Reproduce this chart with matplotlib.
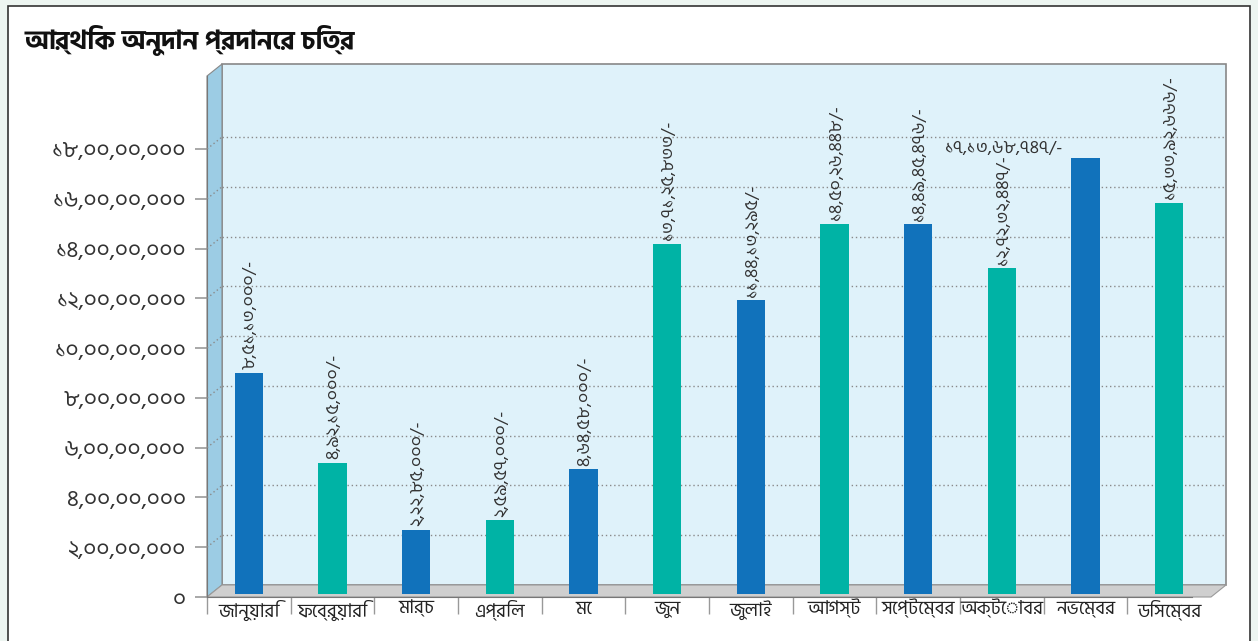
import matplotlib
matplotlib.use("Agg")
import matplotlib.pyplot as plt
from matplotlib.patches import Polygon
from matplotlib.lines import Line2D

# data
months = ['জানুয়ারি', 'ফেব্রুয়ারি', 'মার্চ', 'এপ্রিল', 'মে', 'জুন',
          'জুলাই', 'আগস্ট', 'সেপ্টেম্বর', 'অক্টোবর', 'নভেম্বর', 'ডিসেম্বর']
amounts = [85113000, 49215000, 22285000, 25957000, 46458000, 137125833,
           114413295, 145026448, 144945476, 127232447, 171368747, 153392666]
amount_labels = ['৮,৫১,১৩,০০০/-', '৪,৯২,১৫,০০০/-', '২,২২,৮৫,০০০/-', '২,৫৯,৫৭,০০০/-',
                 '৪,৬৪,৫৮,০০০/-', '১৩,৭১,২৫,৮৩৩/-', '১১,৪৪,১৩,২৯৫/-', '১৪,৫০,২৬,৪৪৮/-',
                 '১৪,৪৯,৪৫,৪৭৬/-', '১২,৭২,৩২,৪৪৭/-', '১৭,১৩,৬৮,৭৪৭/-', '১৫,৩৩,৯২,৬৬৬/-']
yticks = [0, 20000000, 40000000, 60000000, 80000000, 100000000,
          120000000, 140000000, 160000000, 180000000]
ytick_labels = ['০', '২,০০,০০,০০০', '৪,০০,০০,০০০', '৬,০০,০০,০০০', '৮,০০,০০,০০০',
                '১০,০০,০০,০০০', '১২,০০,০০,০০০', '১৪,০০,০০,০০০', '১৬,০০,০০,০০০',
                '১৮,০০,০০,০০০']
title = 'আর্থিক অনুদান প্রদানের চিত্র'

blue = '#1172bb'
teal = '#00b3a5'
colors = [blue if i % 2 == 0 else teal for i in range(len(months))]

plt.rcParams['font.family'] = ['Hind Siliguri', 'DejaVu Sans']

W, H = 1258, 641
fig = plt.figure(figsize=(W / 100, H / 100), dpi=100)
fig.patch.set_facecolor('#edf5f1')


def fx(px):
    return px / W


def fy(py):
    return 1 - py / H


def poly(pts, **kw):
    p = Polygon([(fx(a), fy(b)) for a, b in pts], closed=True,
                transform=fig.transFigure, **kw)
    fig.add_artist(p)
    return p


# white panel
poly([(8, 6), (1250, 6), (1250, 660), (8, 660)],
     facecolor='white', edgecolor='#333333', lw=1.2, zorder=-3)

fig.text(fx(25), fy(40), title, fontsize=19, fontweight='bold', color='#111111',
         va='center', ha='left')

# 3d box geometry (pixels)
bx0, bx1, by0, by1 = 222, 1226, 64, 585   # back wall
dx, dy = -15, 12                          # offset to front plane
ytop = (by1 - by0) * 180000000 / 448

poly([(bx0, by0), (bx1, by0), (bx1, by1), (bx0, by1)],
     facecolor='#dff2fa', edgecolor='#888888', lw=1.2, zorder=-1)
poly([(bx0 + dx, by0 + dy), (bx0, by0), (bx0, by1), (bx0 + dx, by1 + dy)],
     facecolor='#9ccce4', edgecolor='#888888', lw=0.8, zorder=-1)
poly([(bx0, by1), (bx1, by1), (bx1 + dx, by1 + dy), (bx0 + dx, by1 + dy)],
     facecolor='#cfcfcf', edgecolor='#9a9a9a', lw=0.8, zorder=-1)

# back axes: bars + grid
cat_w = (bx1 - bx0) / 12
shift = -dx / cat_w
axb = fig.add_axes([fx(bx0), fy(by1), (bx1 - bx0) / W, (by1 - by0) / H])
axb.patch.set_alpha(0)
axb.set_xlim(-0.5 + shift, 11.5 + shift)
axb.set_ylim(0, ytop)
for s in axb.spines.values():
    s.set_visible(False)
axb.set_xticks([])
axb.set_yticks([])
for t in yticks[1:]:
    axb.axhline(t, color='#8a8a8a', lw=1, ls=(0, (1, 2)), zorder=0)

pad = 9 / 448 * 180000000
xs = list(range(len(months)))
axb.bar(xs, [a + pad for a in amounts], bottom=-pad, width=0.335,
        color=colors, zorder=2, clip_on=False)

for i, (a, lab) in enumerate(zip(amounts, amount_labels)):
    if i == 10:
        axb.text(i - 0.27, a + 1000000, lab, fontsize=13, color='#333333',
                 ha='right', va='bottom')
    else:
        axb.text(i + 0.02, a + 1500000, lab, rotation=90, fontsize=13,
                 color='#333333', ha='center', va='bottom')

# front axes: ticks and labels
axf = fig.add_axes([fx(bx0 + dx), fy(by1 + dy), (bx1 - bx0) / W, (by1 - by0) / H])
axf.patch.set_alpha(0)
axf.set_xlim(-0.5, 11.5)
axf.set_ylim(0, ytop)
axf.spines['top'].set_visible(False)
axf.spines['right'].set_visible(False)
axf.spines['left'].set_color('#777777')
axf.spines['bottom'].set_color('#777777')
axf.spines['bottom'].set_bounds(-0.5, 11.5 - 0.23)
axf.set_yticks(yticks)
axf.set_yticklabels(ytick_labels, fontsize=16.5, color='#333333')
axf.tick_params(axis='y', length=9, color='#999999', pad=6, width=1.2)
axf.set_xticks([i - 0.5 for i in range(12)])
axf.set_xticklabels([])
axf.tick_params(axis='x', which='major', length=12, color='#999999', width=1)
axf.set_xticks(xs, minor=True)
axf.set_xticklabels(months, minor=True, fontsize=13.5, color='#222222')
axf.tick_params(axis='x', which='minor', length=0, pad=2)

# dotted connectors on the side wall
for t in yticks[1:]:
    yb = by1 - t / ytop * (by1 - by0)
    fig.add_artist(Line2D([fx(bx0 + dx), fx(bx0)], [fy(yb + dy), fy(yb)],
                          transform=fig.transFigure, color='#8a8a8a', lw=1,
                          ls=(0, (1, 2))))

fig.savefig('out.png', dpi=100)
